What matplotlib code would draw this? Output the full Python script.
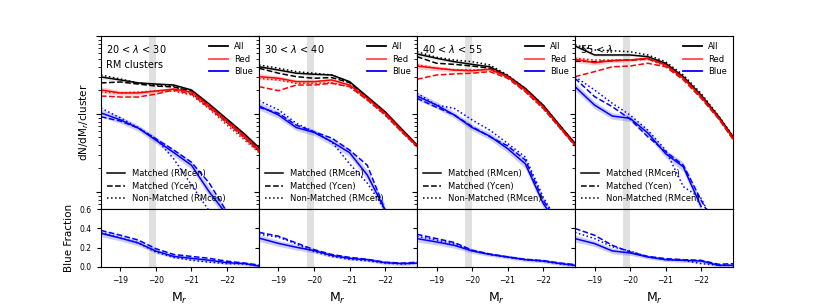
import numpy as np
import matplotlib.pyplot as plt
from matplotlib.lines import Line2D

nan = np.nan

# absolute magnitude grid the curves were read on
mag = [-18.45, -19.0, -19.5, -20.0, -20.5, -21.0, -21.5, -22.0, -22.5, -22.9]
bin_labels = [r'20 < $\lambda$ < 30', r'30 < $\lambda$ < 40', r'40 < $\lambda$ < 55', r'55 < $\lambda$']

# dN/dM_r per cluster, one row per richness bin
all_rm = [[2.98, 2.73, 2.50, 2.42, 2.35, 2.03, 1.34, 0.86, 0.55, 0.37],
          [4.03, 3.66, 3.33, 3.23, 3.16, 2.60, 1.67, 1.07, 0.62, 0.40],
          [5.88, 5.18, 4.68, 4.33, 4.03, 3.10, 2.13, 1.30, 0.69, 0.42],
          [7.45, 5.71, 5.71, 5.71, 5.43, 4.47, 3.01, 1.75, 0.92, 0.51]]
all_ycen = [[2.50, 2.57, 2.42, 2.28, 2.22, 1.97, 1.30, 0.84, 0.54, 0.36],
            [3.86, 3.33, 3.01, 2.87, 2.93, 2.52, 1.63, 1.05, 0.61, 0.39],
            [5.43, 4.47, 4.33, 4.12, 3.86, 3.01, 2.09, 1.29, 0.67, 0.41],
            [4.77, 4.68, 4.82, 4.92, 5.07, 4.38, 2.92, 1.70, 0.90, 0.50]]
all_nm = [[3.16, 2.81, 2.50, 2.35, 2.28, 1.86, 1.23, 0.77, 0.49, 0.33],
          [4.25, 3.86, 3.49, 3.33, 3.16, 2.57, 1.63, 1.03, 0.61, 0.39],
          [6.28, 5.33, 4.92, 4.68, 4.25, 3.16, 2.13, 1.30, 0.69, 0.42],
          [7.67, 6.62, 6.48, 6.28, 5.71, 4.68, 3.16, 1.84, 0.94, 0.52]]

red_rm = [[2.03, 1.86, 1.86, 1.97, 2.09, 1.91, 1.27, 0.81, 0.52, 0.345],
          [3.01, 2.87, 2.60, 2.60, 2.73, 2.35, 1.59, 1.02, 0.59, 0.39],
          [4.12, 3.86, 3.66, 3.59, 3.74, 3.01, 2.03, 1.24, 0.66, 0.40],
          [5.03, 4.54, 4.82, 4.92, 5.18, 4.25, 2.87, 1.67, 0.88, 0.49]]
red_ycen = [[1.70, 1.65, 1.65, 1.80, 2.03, 1.80, 1.19, 0.77, 0.49, 0.33],
            [2.24, 1.99, 2.35, 2.35, 2.47, 2.24, 1.51, 0.97, 0.57, 0.38],
            [2.79, 3.16, 3.26, 3.33, 3.49, 2.87, 1.93, 1.18, 0.64, 0.39],
            [3.01, 3.49, 4.03, 4.12, 4.47, 4.03, 2.73, 1.59, 0.86, 0.47]]
red_nm = [[1.91, 1.86, 1.91, 1.97, 1.97, 1.75, 1.16, 0.72, 0.46, 0.32],
          [2.87, 2.73, 2.47, 2.47, 2.52, 2.24, 1.51, 0.97, 0.57, 0.38],
          [4.25, 3.86, 3.66, 3.66, 3.74, 2.96, 1.93, 1.18, 0.64, 0.39],
          [5.18, 4.92, 4.92, 4.92, 5.03, 4.12, 2.79, 1.62, 0.87, 0.48]]

blue_rm = [[1.03, 0.84, 0.66, 0.46, 0.32, 0.22, 0.10, 0.051, nan, nan],
           [1.27, 0.97, 0.67, 0.58, 0.44, 0.32, 0.165, 0.059, nan, nan],
           [1.70, 1.30, 0.97, 0.67, 0.52, 0.36, 0.23, 0.072, 0.033, nan],
           [2.24, 1.30, 0.94, 0.88, 0.57, 0.31, 0.21, 0.065, nan, nan]]
blue_ycen = [[0.92, 0.81, 0.66, 0.48, 0.345, 0.24, 0.13, 0.055, nan, nan],
             [1.22, 1.02, 0.72, 0.59, 0.49, 0.345, 0.22, 0.059, nan, nan],
             [1.59, 1.22, 0.97, 0.69, 0.51, 0.39, 0.257, 0.079, 0.035, nan],
             [2.87, 1.67, 1.24, 0.86, 0.51, 0.33, 0.22, 0.079, 0.03, nan]]
blue_nm = [[1.19, 0.89, 0.67, 0.48, 0.265, 0.123, 0.057, 0.024, nan, nan],
           [1.48, 1.13, 0.76, 0.59, 0.44, 0.23, 0.13, 0.059, nan, nan],
           [1.84, 1.30, 1.18, 0.84, 0.62, 0.42, 0.28, 0.087, 0.035, nan],
           [3.01, 2.03, 1.37, 0.97, 0.62, 0.345, 0.117, 0.083, 0.03, nan]]

# uncertainty (dex) on the matched RMcen curves
err_all = [0.03, 0.025, 0.02, 0.02, 0.02, 0.02, 0.02, 0.02, 0.025, 0.03]
err_red = [0.04, 0.03, 0.025, 0.02, 0.02, 0.02, 0.02, 0.025, 0.03, 0.03]
err_blue = [0.05, 0.045, 0.04, 0.04, 0.045, 0.05, 0.06, 0.07, 0.08, 0.08]

# blue fraction
frac_rm = [[0.35, 0.30, 0.25, 0.165, 0.11, 0.09, 0.07, 0.045, 0.035, 0.01],
           [0.30, 0.245, 0.205, 0.17, 0.12, 0.09, 0.075, 0.045, 0.035, 0.04],
           [0.295, 0.26, 0.225, 0.167, 0.13, 0.104, 0.076, 0.062, 0.035, 0.017],
           [0.295, 0.243, 0.167, 0.146, 0.104, 0.076, 0.069, 0.062, 0.017, 0.017]]
frac_ycen = [[0.38, 0.33, 0.28, 0.19, 0.13, 0.11, 0.09, 0.06, 0.04, 0.02],
             [0.36, 0.32, 0.25, 0.18, 0.13, 0.10, 0.08, 0.05, 0.04, 0.05],
             [0.34, 0.295, 0.255, 0.175, 0.135, 0.105, 0.08, 0.066, 0.04, 0.025],
             [0.40, 0.33, 0.225, 0.156, 0.11, 0.087, 0.076, 0.069, 0.028, 0.035]]
frac_nm = [[0.36, 0.30, 0.25, 0.155, 0.10, 0.07, 0.05, 0.035, 0.03, 0.01],
           [0.34, 0.31, 0.24, 0.16, 0.11, 0.08, 0.065, 0.04, 0.03, 0.04],
           [0.32, 0.28, 0.24, 0.17, 0.13, 0.10, 0.075, 0.06, 0.03, 0.015],
           [0.36, 0.295, 0.21, 0.167, 0.104, 0.076, 0.069, 0.035, 0.017, 0.017]]
frac_err = [0.035, 0.03, 0.03, 0.025, 0.02, 0.02, 0.02, 0.02, 0.02, 0.02]

fig, axes = plt.subplots(2, 4, figsize=(8.14, 3.05), dpi=100, sharex=True,
                         gridspec_kw={'height_ratios': [3, 1]})
plt.subplots_adjust(left=0.124, right=0.9005, top=0.882, bottom=0.1246,
                    wspace=0, hspace=0)

lw = 1.1
for i in range(4):
    ax = axes[0, i]
    ar = axes[1, i]
    for a in (ax, ar):
        a.axvspan(-19.8, -20.0, color='0.88', lw=0, zorder=0)

    for rm, yc, nm, err, col, bcol in [
            (all_rm[i], all_ycen[i], all_nm[i], err_all, 'k', '0.6'),
            (red_rm[i], red_ycen[i], red_nm[i], err_red, 'r', 'r'),
            (blue_rm[i], blue_ycen[i], blue_nm[i], err_blue, 'b', 'b')]:
        y = np.array(rm)
        e = 10 ** np.array(err)
        ax.fill_between(mag, y / e, y * e, color=bcol, alpha=0.2, lw=0)
        ax.plot(mag, rm, color=col, ls='-', lw=lw)
        ax.plot(mag, yc, color=col, ls='--', lw=lw)
        ax.plot(mag, nm, color=col, ls=':', lw=lw)

    f = np.array(frac_rm[i])
    fe = np.array(frac_err)
    ar.fill_between(mag, f - fe, f + fe, color='b', alpha=0.2, lw=0)
    ar.plot(mag, frac_rm[i], 'b-', lw=lw)
    ar.plot(mag, frac_ycen[i], 'b--', lw=lw)
    ar.plot(mag, frac_nm[i], 'b:', lw=lw)

    ax.set_yscale('log')
    ax.set_ylim(0.06, 10)
    ax.set_xlim(-18.45, -22.9)
    ax.tick_params(axis='y', which='both', labelleft=False, direction='out')
    ax.tick_params(axis='x', which='both', labelbottom=False)
    ar.set_ylim(0, 0.6)
    ar.set_yticks([0.0, 0.2, 0.4, 0.6])
    ar.set_xticks([-19, -20, -21, -22])
    ar.tick_params(labelsize=5.5, length=3)
    if i > 0:
        ar.tick_params(axis='y', labelleft=False)
    ar.set_xlabel(r'M$_r$', fontsize=9)

    txt = bin_labels[i] + ('\nRM clusters' if i == 0 else '')
    ax.text(0.03, 0.96, txt, transform=ax.transAxes, ha='left', va='top',
            fontsize=7, linespacing=1.6)

    h1 = [Line2D([], [], color='k', lw=1.3),
          Line2D([], [], color='r', lw=1.3, alpha=0.7),
          Line2D([], [], color='b', lw=1.3)]
    leg1 = ax.legend(h1, ['All', 'Red', 'Blue'], loc='upper right', frameon=False,
                     fontsize=6, handlelength=2.2, borderaxespad=0.3,
                     labelspacing=0.45)
    ax.add_artist(leg1)
    h2 = [Line2D([], [], color='k', ls='-', lw=1.1),
          Line2D([], [], color='k', ls='--', lw=1.1),
          Line2D([], [], color='k', ls=':', lw=1.1)]
    ax.legend(h2, ['Matched (RMcen)', 'Matched (Ycen)', 'Non-Matched (RMcen)'],
              loc='lower left', frameon=False, fontsize=6, handlelength=2.2,
              borderaxespad=0.3, labelspacing=0.45)

axes[0, 0].set_ylabel(r'dN/dM$_r$/cluster', fontsize=7.5)
axes[1, 0].set_ylabel('Blue Fraction', fontsize=7.5)

fig.savefig('out.png', dpi=100)
